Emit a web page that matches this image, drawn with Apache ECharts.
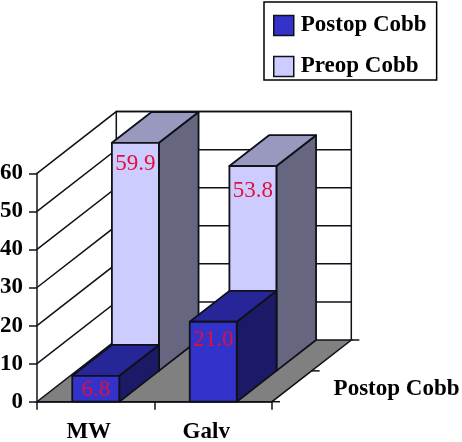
<!DOCTYPE html>
<html><head><meta charset="utf-8">
<style>html,body{margin:0;padding:0;background:#fff}#c{width:462px;height:442px}</style>
<script src="https://cdn.jsdelivr.net/npm/echarts@6/dist/echarts.min.js"></script>
</head><body><div id="c"></div>
<script>
const categories = ['MW', 'Galv'];
const postopCobb = [6.8, 21.0];
const preopCobb = [59.9, 53.8];
const yTicks = [0, 10, 20, 30, 40, 50, 60];
const seriesNames = ['Postop Cobb', 'Preop Cobb'];

const FONT = '"Liberation Serif"';
const INK = '#101018';
const DEPTH = [79.3, -61.7];
const labelDrop = { 'Postop Cobb': [14.5, 18.5], 'Preop Cobb': [21.5, 24.5] };

function frame(params, api) {
  const bw = api.size([1, 0])[0];
  const xL = api.coord([0, 0])[0] - bw / 2;
  const xR = api.coord([categories.length - 1, 0])[0] + bw / 2;
  const y0 = api.coord([0, 0])[1];
  const yT = api.coord([0, 60])[1];
  const [dx, dy] = DEPTH;
  const line = { stroke: INK, lineWidth: 1.5, fill: null };
  const kids = [];
  kids.push({ type: 'polygon', shape: { points: [[xL, y0], [xR, y0], [xR + dx, y0 + dy], [xL + dx, y0 + dy]] },
    style: { fill: '#808080', stroke: INK, lineWidth: 1.5 } });
  kids.push({ type: 'polyline', shape: { points: [[xL + dx, y0 + dy], [xL + dx, yT + dy], [xR + dx, yT + dy], [xR + dx, y0 + dy]] }, style: line });
  yTicks.forEach(t => {
    if (t === 0) return;
    const y = api.coord([0, t])[1];
    kids.push({ type: 'polyline', shape: { points: [[xL, y], [xL + dx, y + dy], [xR + dx, y + dy]] }, style: line });
  });
  // depth-axis ticks and name
  [0, 0.5, 1].forEach(f => {
    kids.push({ type: 'line', shape: { x1: xR + dx * f, y1: y0 + dy * f, x2: xR + dx * f + 8, y2: y0 + dy * f }, style: line });
  });
  kids.push({ type: 'text', x: 459.5, y: 389, style: { text: seriesNames[0], font: 'bold 23px ' + FONT, fill: '#000', align: 'right', verticalAlign: 'middle' } });
  return { type: 'group', children: kids };
}

function shade(hex, k) {
  const n = parseInt(hex.slice(1), 16);
  const c = [n >> 16, (n >> 8) & 255, n & 255].map(v => Math.round(v * k));
  return 'rgb(' + c.join(',') + ')';
}

function bars(row, color) {
  return function (params, api) {
    const i = api.value(0), v = api.value(1);
    const name = seriesNames[row];
    const cx = api.coord([i, 0])[0];
    const w = api.size([1, 0])[0] * 0.4;
    const ox = DEPTH[0] * row / 2, oy = DEPTH[1] * row / 2;
    const dx = DEPTH[0] / 2, dy = DEPTH[1] / 2;
    const x0 = cx - w / 2 + ox, x1 = cx + w / 2 + ox;
    const yb = api.coord([i, 0])[1] + oy, yt = api.coord([i, v])[1] + oy;
    const st = { stroke: INK, lineWidth: 1.8, lineJoin: 'round' };
    return { type: 'group', children: [
      { type: 'polygon', shape: { points: [[x1, yb], [x1 + dx, yb + dy], [x1 + dx, yt + dy], [x1, yt]] }, style: { ...st, fill: shade(color, 0.5) } },
      { type: 'polygon', shape: { points: [[x0, yt], [x1, yt], [x1 + dx, yt + dy], [x0 + dx, yt + dy]] }, style: { ...st, fill: shade(color, 0.75) } },
      { type: 'polygon', shape: { points: [[x0, yb], [x1, yb], [x1, yt], [x0, yt]] }, style: { ...st, fill: color } },
      { type: 'text', x: (x0 + x1) / 2, y: yt + labelDrop[name][i],
        style: { text: v.toFixed(1), font: '23px ' + FONT, fill: '#e0103c', align: 'center', verticalAlign: 'middle' } }
    ] };
  };
}

const chart = echarts.init(document.getElementById('c'), null, { renderer: 'canvas' });
chart.setOption({
  animation: false,
  backgroundColor: '#fff',
  grid: { left: 37, right: 190, top: 173.3, bottom: 40.3, containLabel: false, outerBoundsMode: 'none' },
  legend: {
    left: 264, top: 2, orient: 'vertical', show: true,
    data: seriesNames,
    selectedMode: false,
    backgroundColor: '#fff', borderColor: '#000', borderWidth: 1.5, borderRadius: 0,
    padding: [12, 10, 2, 9], itemGap: 18, itemWidth: 20, itemHeight: 20, icon: 'rect',
    itemStyle: { borderColor: INK, borderWidth: 1.5 },
    textStyle: { fontFamily: FONT, fontWeight: 'bold', fontSize: 23, color: '#000', padding: [0, 0, 0, 2] }
  },
  xAxis: {
    type: 'category', data: categories,
    axisLine: { lineStyle: { color: INK, width: 1.5 } },
    axisTick: { show: true, length: 8, lineStyle: { color: INK, width: 1.5 } },
    axisLabel: { fontFamily: FONT, fontWeight: 'bold', fontSize: 23, color: '#000', margin: 19, padding: [0, 14, 0, 0] }
  },
  yAxis: {
    type: 'value', min: 0, max: 60, interval: 10,
    axisLine: { show: true, lineStyle: { color: INK, width: 1.5 } },
    axisTick: { show: true, length: 8, lineStyle: { color: INK, width: 1.5 } },
    splitLine: { show: false },
    axisLabel: { fontFamily: FONT, fontWeight: 'bold', fontSize: 23, color: '#000', margin: 14, padding: [6, 0, 0, 0] }
  },
  series: [
    { type: 'custom', name: 'frame', z: 1, clip: false, silent: true, data: [[0, 0]], renderItem: frame, encode: { x: 0, y: 1 } },
    { type: 'custom', name: seriesNames[1], z: 3, clip: false, itemStyle: { color: '#ccccff' },
      data: preopCobb.map((v, i) => [i, v]), renderItem: bars(1, '#ccccff'), encode: { x: 0, y: 1 } },
    { type: 'custom', name: seriesNames[0], z: 4, clip: false, itemStyle: { color: '#3333cc' },
      data: postopCobb.map((v, i) => [i, v]), renderItem: bars(0, '#3333cc'), encode: { x: 0, y: 1 } }
  ]
});
</script></body></html>
